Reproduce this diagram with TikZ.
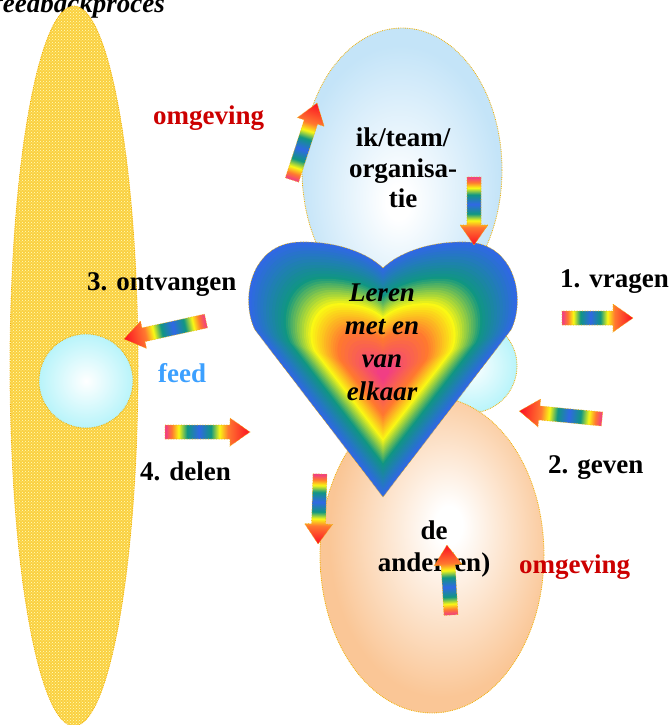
\documentclass[tikz,border=0pt]{standalone}
\usepackage{fontspec}
\setmainfont{Liberation Serif}
\usepackage{tikz}
\usetikzlibrary{patterns}

\definecolor{gold}{RGB}{250,208,64}
\definecolor{rim}{RGB}{240,175,0}
\definecolor{skyblue}{RGB}{196,228,248}
\definecolor{icecyan}{RGB}{184,244,250}
\definecolor{peach}{RGB}{250,198,150}
\definecolor{omgred}{RGB}{204,0,0}
\definecolor{feedblue}{RGB}{60,160,255}
\definecolor{hblue}{RGB}{48,104,228}
\definecolor{hteal}{RGB}{16,150,130}
\definecolor{hyellow}{RGB}{250,248,20}
\definecolor{horange}{RGB}{255,120,48}
\definecolor{hpink}{RGB}{240,56,140}

\pgfdeclarehorizontalshading{rainbowflow}{100bp}{color(0bp)=(hpink); color(25bp)=(hpink);
  color(29bp)=(horange); color(33bp)=(hyellow); color(38bp)=(hteal); color(45bp)=(hblue);
  color(52bp)=(hteal); color(57bp)=(hyellow); color(62bp)=(horange); color(75bp)=(red!75!hpink);
  color(100bp)=(red!75!hpink)}
\pgfdeclareradialshading{peachglow}{\pgfpoint{4bp}{5bp}}{color(0bp)=(white); color(3bp)=(white);
  color(25bp)=(peach); color(50bp)=(peach)}
\pgfdeclareradialshading{skyglow}{\pgfpoint{-1bp}{-6bp}}{color(0bp)=(white); color(3bp)=(white);
  color(25bp)=(skyblue); color(50bp)=(skyblue)}

\newcommand\heartpath{(0,122) -- (-128,-45) .. controls (-143,-75) and (-133,-132) .. (-83,-133)
  .. controls (-43,-134) and (-13,-120) .. (0,-107) .. controls (13,-120) and (43,-134) .. (83,-133)
  .. controls (133,-132) and (143,-75) .. (128,-45) -- cycle}

% tail x, tail y, angle, length
\newcommand\flowarrow[4]{%
  \begin{scope}[transform canvas={shift={(#1,#2)},rotate=#3}]
    \shade[shading=rainbowflow,draw=rim,densely dotted,line width=0.6pt]
      (0,7) -- (#4-20,7) -- (#4-20,14) -- (#4,0) -- (#4-20,-14) -- (#4-20,-7) -- (0,-7) -- cycle;
  \end{scope}}

\tikzset{
  blob/.style={draw=rim,densely dotted,line width=0.8pt},
  bigtext/.style={font=\bfseries\fontsize{27}{31}\selectfont,inner sep=0pt},
  heartext/.style={font=\bfseries\itshape\fontsize{27}{33}\selectfont,inner sep=0pt,align=center}
}

\begin{document}
\begin{tikzpicture}[x=1pt,y=-1pt]
  \useasboundingbox (0,0) rectangle (670,725);
  \begin{scope}
  \clip (0,0) rectangle (670,725);
  \node[bigtext,font=\bfseries\itshape\fontsize{27}{31}\selectfont,anchor=base east] (title) at (165,13) {feedbackproces};

  \fill[gold] (74,366) ellipse (64 and 360);
  \fill[pattern=crosshatch dots,pattern color=yellow!25] (74,366) ellipse (64 and 360);
  \draw[blob] (74,366) ellipse (64 and 360);
  \shade[blob,inner color=white,outer color=icecyan] (86,381) circle (47);
  \shade[blob,shading=skyglow] (402,170) ellipse (100 and 142);
  \shade[blob,inner color=white,outer color=icecyan] (470,366) circle (47);
  \shade[blob,shading=peachglow] (432,555) ellipse (112 and 158);

  % the heart is built from nested copies, outer blue to inner pink
  \foreach \from/\to/\cfrom/\cto in {1.00/0.74/hblue/hteal, 0.74/0.54/hteal/hyellow,
      0.54/0.34/hyellow/horange, 0.34/0.02/horange/hpink} {
    \foreach \k in {0,...,11} {
      \pgfmathsetmacro\s{\from-(\from-\to)*\k/12}
      \pgfmathtruncatemacro\p{100*\k/12}
      \fill[fill={\cto!\p!\cfrom},shift={(383,375)},scale=\s] \heartpath;
    }
  }
  \draw[rim,densely dotted,line width=0.6pt,shift={(383,375)}] \heartpath;

  \node[heartext] (leren) at (382,342) {Leren\\met en\\van\\elkaar};
  \node[bigtext,align=center,font=\bfseries\fontsize{27}{30.5}\selectfont] (ik) at (403,168) {ik/team/\\organisa-\\tie};
  \node[bigtext,align=center,font=\bfseries\fontsize{27}{32}\selectfont] (ander) at (434,549) {de\\ander(en)};
  \node[bigtext,text=omgred,anchor=base west] (omgtop) at (153,124) {omgeving};
  \node[bigtext,text=omgred,anchor=base west] (omgbot) at (519,573) {omgeving};
  \node[bigtext,anchor=base west] (ontvangen) at (87,290) {3. ontvangen};
  \node[bigtext,anchor=base west] (vragen) at (560,287) {1. vragen};
  \node[bigtext,anchor=base west] (delen) at (140,480) {4. delen};
  \node[bigtext,anchor=base west] (geven) at (548,473) {2. geven};
  \node[bigtext,text=feedblue,anchor=base west] (feed) at (158,382) {feed};

  \flowarrow{562}{318}{0}{71}
  \flowarrow{602}{419}{174.5}{83}
  \flowarrow{206}{321}{192.4}{84}
  \flowarrow{165}{432}{0}{85}
  \flowarrow{292}{180}{72}{81}
  \flowarrow{474}{177}{-90}{68}
  \flowarrow{320}{474}{-91.6}{70}
  \flowarrow{451}{615}{93.3}{70}
  \end{scope}
\end{tikzpicture}
\end{document}
